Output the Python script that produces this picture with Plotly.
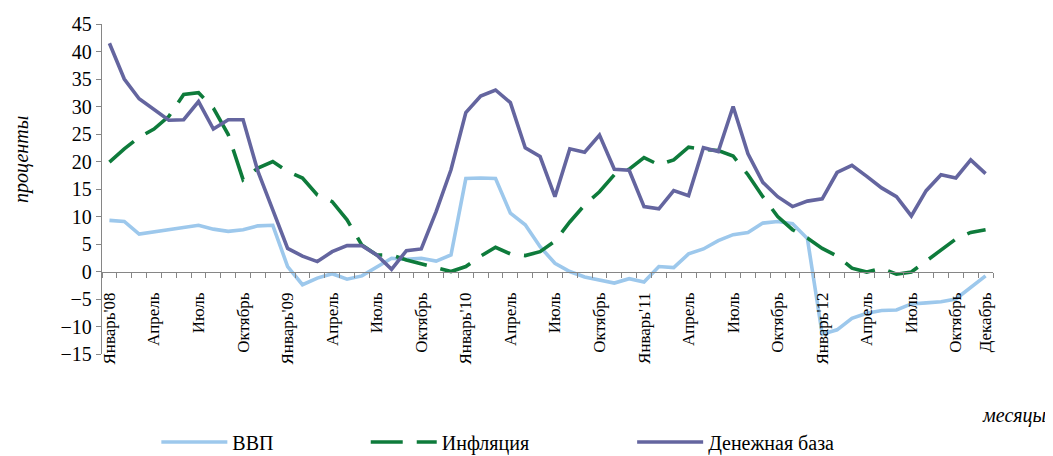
import plotly.graph_objects as go

months = ["Январь'08", "Февраль", "Март", "Апрель", "Май", "Июнь", "Июль", "Август", "Сентябрь", "Октябрь", "Ноябрь", "Декабрь",
          "Январь'09", "Февраль", "Март", "Апрель", "Май", "Июнь", "Июль", "Август", "Сентябрь", "Октябрь", "Ноябрь", "Декабрь",
          "Январь'10", "Февраль", "Март", "Апрель", "Май", "Июнь", "Июль", "Август", "Сентябрь", "Октябрь", "Ноябрь", "Декабрь",
          "Январь'11", "Февраль", "Март", "Апрель", "Май", "Июнь", "Июль", "Август", "Сентябрь", "Октябрь", "Ноябрь", "Декабрь",
          "Январь'12", "Февраль", "Март", "Апрель", "Май", "Июнь", "Июль", "Август", "Сентябрь", "Октябрь", "Ноябрь", "Декабрь"]

gdp = [9.3, 9.1, 6.8, 7.2, 7.6, 7.9, 8.4, 7.7, 7.3, 7.6, 8.3, 8.4,
       0.9, -2.4, -1.2, -0.4, -1.4, -0.8, 0.8, 2.4, 2.2, 2.4, 1.9, 3.0,
       16.9, 17.0, 16.9, 10.6, 8.5, 4.5, 1.5, 0.0, -1.0, -1.6, -2.1, -1.3,
       -1.9, 0.9, 0.7, 3.2, 4.1, 5.6, 6.7, 7.1, 8.8, 9.1, 8.7, 6.0,
       -11.4, -10.6, -8.5, -7.6, -7.1, -7.0, -5.9, -5.7, -5.5, -5.0, -3.0, -0.8]

inflation = [19.9, 22.3, 24.4, 25.9, 28.2, 32.2, 32.5, 29.7, 24.9, 16.7, 18.8, 20.0,
             18.2, 17.0, 13.9, 12.7, 9.4, 4.8, 3.0, 3.0, 2.1, 1.4, 0.6, 0.0,
             0.9, 2.8, 4.4, 3.2, 2.9, 3.6, 5.5, 9.0, 12.1, 14.5, 17.6, 18.6,
             20.7, 19.4, 20.3, 22.6, 22.2, 22.0, 21.0, 17.6, 13.6, 10.0, 7.6, 6.1,
             4.2, 2.8, 0.6, -0.1, 0.6, -0.5, -0.1, 1.9, 3.9, 5.9, 7.1, 7.6]

money_base = [41.5, 35.0, 31.4, 29.4, 27.5, 27.6, 30.9, 25.9, 27.6, 27.6, 18.2, 11.2,
              4.2, 2.8, 1.8, 3.6, 4.7, 4.7, 3.0, 0.4, 3.8, 4.1, 10.9, 18.5,
              28.9, 31.9, 33.0, 30.7, 22.5, 20.9, 13.6, 22.3, 21.7, 24.8, 18.6, 18.4,
              11.8, 11.4, 14.7, 13.8, 22.5, 21.8, 30.0, 21.4, 16.2, 13.6, 11.8, 12.8,
              13.2, 18.0, 19.3, 17.3, 15.2, 13.6, 10.1, 14.7, 17.6, 17.0, 20.3, 17.8]

tick_idx = [0, 3, 6, 9, 12, 15, 18, 21, 24, 27, 30, 33, 36, 39, 42, 45, 48, 51, 54, 57, 59]
tick_text = ["Январь'08", "Апрель", "Июль", "Октябрь", "Январь'09", "Апрель", "Июль", "Октябрь",
             "Январь'10", "Апрель", "Июль", "Октябрь", "Январь'11", "Апрель", "Июль", "Октябрь",
             "Январь'12", "Апрель", "Июль", "Октябрь", "Декабрь"]

x = list(range(len(months)))
FONT = "Liberation Serif"
AXIS = "#868686"

# the page body has an 8px margin: figure is 8px smaller and its margins shifted accordingly
W, H = 1045, 448
L, T, PW, PH = 94, 16, 891, 330

fig = go.Figure()
fig.add_trace(go.Scatter(x=x, y=gdp, name="ВВП", mode="lines", text=months, showlegend=True,
                         line=dict(color="#9DC8EC", width=3.6), legend="legend"))
fig.add_trace(go.Scatter(x=x, y=inflation, name="Инфляция", mode="lines", text=months, showlegend=True,
                         line=dict(color="#0E7B3B", width=3.6, dash="32px,14px"), legend="legend2"))
fig.add_trace(go.Scatter(x=x, y=money_base, name="Денежная база", mode="lines", text=months, showlegend=True,
                         line=dict(color="#64659F", width=3.6), legend="legend3"))

boundaries = [i - 0.5 for i in range(len(months) + 1)]
leg_common = dict(orientation="h", xanchor="left", y=-(434 - (T + PH)) / PH, yanchor="middle",
                  font=dict(family=FONT, size=20), bgcolor="rgba(0,0,0,0)", itemwidth=66)

fig.update_layout(
    width=W, height=H,
    showlegend=True,
    margin=dict(l=L, r=W - L - PW, t=T, b=H - T - PH, autoexpand=False),
    paper_bgcolor="white", plot_bgcolor="white",
    font=dict(family=FONT, size=19, color="black"),
    xaxis=dict(range=[-0.5, len(months) - 0.5], tickmode="array", tickvals=tick_idx, ticktext=tick_text,
               tickangle=-90, ticks="", showgrid=False, zeroline=False,
               showline=True, linecolor=AXIS, linewidth=1.3,
               anchor="free", position=0.25, ticklabelstandoff=13,
               minor=dict(tickmode="array", tickvals=boundaries, ticks="outside", ticklen=5,
                          tickcolor=AXIS, tickwidth=1.3, showgrid=False),
               tickfont=dict(family=FONT, size=17, color="black")),
    yaxis=dict(range=[-15, 45], dtick=5, tick0=0, ticks="outside", ticklen=5, tickcolor=AXIS, tickwidth=1.3,
               showgrid=False, zeroline=False, showline=True, linecolor=AXIS, linewidth=1.3,
               tickfont=dict(family=FONT, size=20, color="black")),
    legend=dict(x=0.061, **leg_common),
    legend2=dict(x=0.296, **leg_common),
    legend3=dict(x=0.595, **leg_common),
    annotations=[
        dict(text="<i>проценты</i>", xref="paper", yref="paper", x=(13 - L) / PW, y=(T + PH - 152) / PH,
             textangle=-90, showarrow=False, font=dict(family=FONT, size=20), xanchor="center", yanchor="middle"),
        dict(text="<i>месяцы</i>", xref="paper", yref="paper", x=(1040 - L) / PW, y=(T + PH - 407) / PH,
             showarrow=False, font=dict(family=FONT, size=20), xanchor="right", yanchor="middle"),
    ],
)

fig.write_html("out.html")
